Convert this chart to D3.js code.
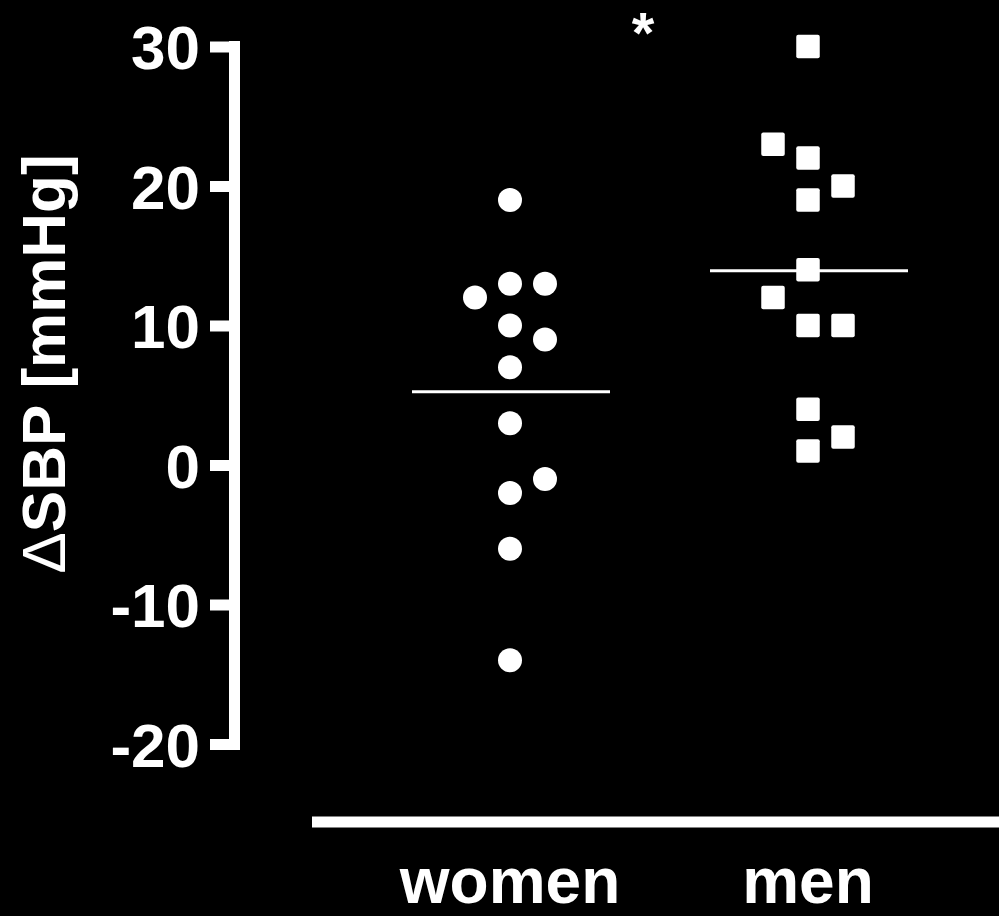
<!DOCTYPE html>
<html>
<head>
<meta charset="utf-8">
<script src="https://cdn.jsdelivr.net/npm/d3@7"></script>
<style>
  html, body { margin: 0; padding: 0; background: #000; }
  svg { display: block; }
  text { font-family: "Liberation Sans", Arial, Helvetica, sans-serif; font-weight: bold; fill: #fff; }
</style>
</head>
<body>
<svg id="chart" width="999" height="916"></svg>
<script>
// Groups and their individual ΔSBP values (mmHg)
const groups = ["women", "men"];
const womenValues = [19, 13, 13, 12, 10, 9, 7, 3, -1, -2, -6, -14];
const womenColumn = [0, 0, 1, -1, 0, 1, 0, 0, 1, 0, 0, 0];
const menValues = [30, 23, 22, 20, 19, 14, 12, 10, 10, 4, 2, 1];
const menColumn = [0, -1, 0, 1, 0, 0, -1, 0, 1, 0, 1, 0];
const yTicks = [-20, -10, 0, 10, 20, 30];
const yLabelSymbol = "Δ";
const yLabelText = "SBP [mmHg]";
const significance = "*";

const svg = d3.select("#chart");
const W = 999, H = 916;
svg.append("rect").attr("width", W).attr("height", H).attr("fill", "#000");

const y = d3.scaleLinear().domain([-20, 30]).range([744, 46.5]);
const x = d3.scalePoint().domain(groups).range([510, 808]);
const colStep = 35;

// Y axis: thick white spine with outward ticks
const axisX = 240;
const yAxis = d3.axisLeft(y).tickValues(yTicks).tickSize(30).tickPadding(10).tickSizeOuter(0)
  .tickFormat(d => String(d));
const gy = svg.append("g").attr("transform", `translate(${axisX},0)`).call(yAxis);
gy.select(".domain").remove();
gy.selectAll(".tick line").attr("stroke", "#fff").attr("stroke-width", 11).attr("x1", 0);
gy.selectAll(".tick text").attr("font-size", 62).attr("fill", "#fff")
  .attr("font-family", "Liberation Sans, Arial, sans-serif").attr("font-weight", "bold")
  .attr("dy", "0.36em");
gy.append("line").attr("x1", -5.5).attr("x2", -5.5)
  .attr("y1", y(30) - 5.5).attr("y2", y(-20) + 5.5)
  .attr("stroke", "#fff").attr("stroke-width", 11);

// Y axis title (the delta drawn in a lighter weight)
const title = svg.append("text")
  .attr("transform", "translate(65, 364) rotate(-90)")
  .attr("text-anchor", "middle")
  .attr("font-size", 62);
title.append("tspan").attr("font-weight", "normal").text(yLabelSymbol);
title.append("tspan").text(yLabelText);

// X axis: a bare horizontal bar with group names below
svg.append("line").attr("x1", 312).attr("x2", W).attr("y1", 822).attr("y2", 822)
  .attr("stroke", "#fff").attr("stroke-width", 11);
svg.selectAll(".grp").data(groups).join("text")
  .attr("class", "grp")
  .attr("x", d => x(d)).attr("y", 903)
  .attr("text-anchor", "middle").attr("font-size", 64)
  .text(d => d);

// Women: circles
const women = womenValues.map((v, i) => ({ v, c: womenColumn[i] }));
svg.selectAll(".w").data(women).join("circle")
  .attr("class", "w")
  .attr("cx", d => x("women") + d.c * colStep)
  .attr("cy", d => y(d.v))
  .attr("r", 12).attr("fill", "#fff");

// Men: squares
const men = menValues.map((v, i) => ({ v, c: menColumn[i] }));
const sq = 23.5;
svg.selectAll(".m").data(men).join("rect")
  .attr("class", "m")
  .attr("x", d => x("men") + d.c * colStep - sq / 2)
  .attr("y", d => y(d.v) - sq / 2)
  .attr("width", sq).attr("height", sq).attr("rx", 2)
  .attr("fill", "#fff");

// Group means
const means = [
  { g: "women", m: d3.mean(womenValues) },
  { g: "men", m: d3.mean(menValues) }
];
svg.selectAll(".mean").data(means).join("line")
  .attr("class", "mean")
  .attr("x1", d => x(d.g) - 98).attr("x2", d => x(d.g) + 100)
  .attr("y1", d => y(d.m)).attr("y2", d => y(d.m))
  .attr("stroke", "#fff").attr("stroke-width", 3);

// Significance marker between groups
svg.append("text").attr("x", 643).attr("y", 53)
  .attr("text-anchor", "middle").attr("font-size", 58)
  .text(significance);
</script>
</body>
</html>
